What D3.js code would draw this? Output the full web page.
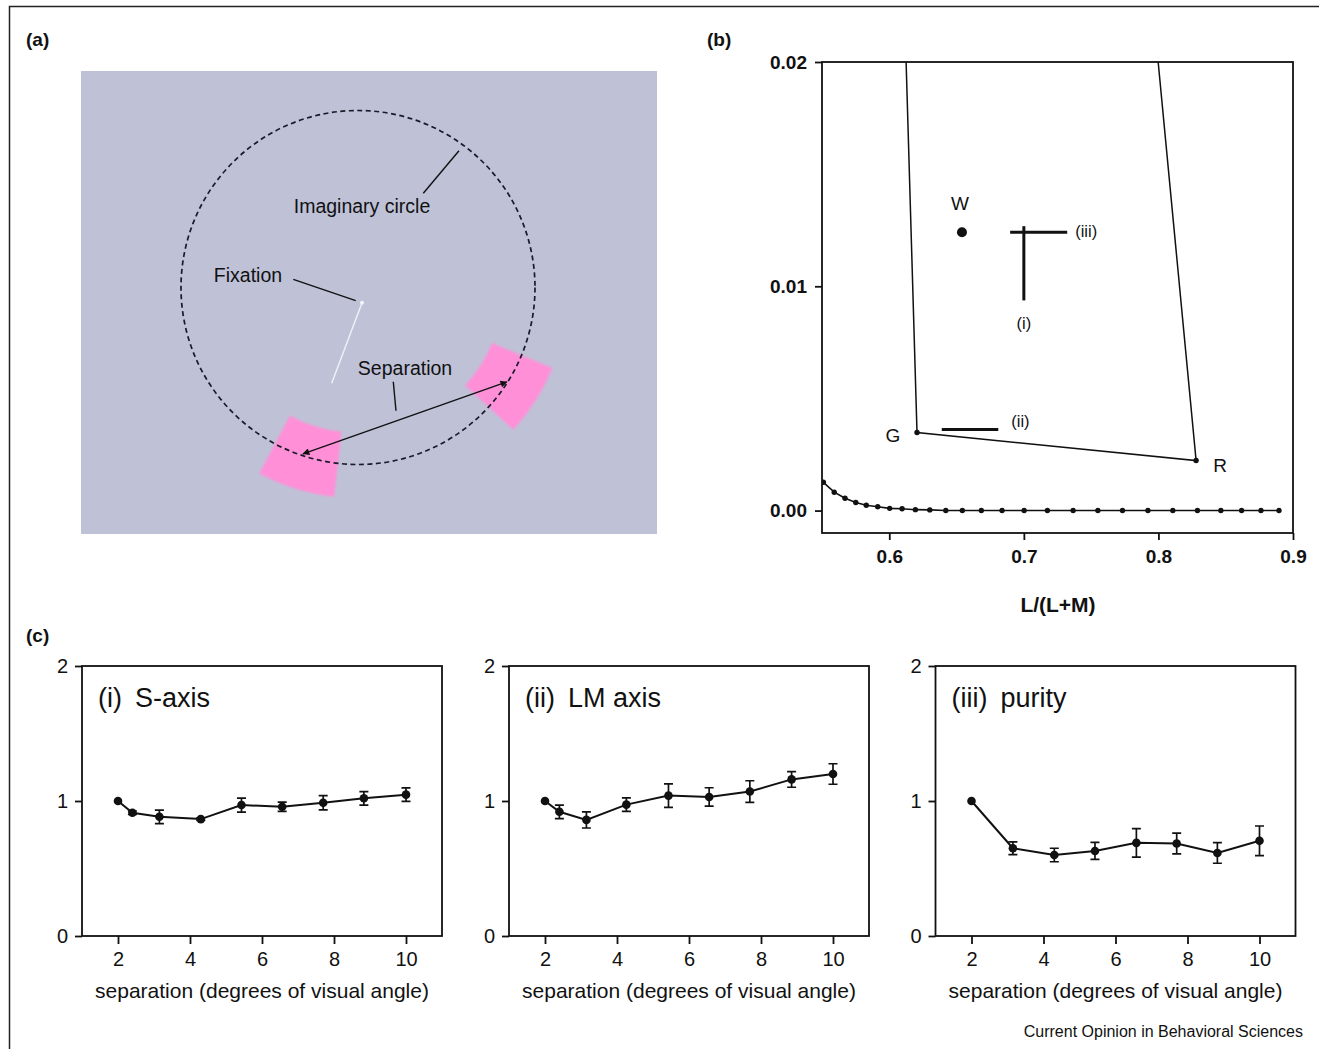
<!DOCTYPE html>
<html><head><meta charset="utf-8">
<script src="https://cdn.jsdelivr.net/npm/d3@7"></script>
<style>
body{margin:0;background:#fff}
svg{display:block}
text{font-family:"Liberation Sans",Arial,Helvetica,sans-serif;fill:#111}
</style>
</head><body>
<svg id="fig" width="1319" height="1049"></svg>
<script>
// ---------- DATA ----------
// Panel (b): spectrum locus in MacLeod-Boynton space
const locusLM = [0.551,0.5591,0.5671,0.5751,0.5829,0.5914,0.6003,0.6095,0.6194,0.6301,0.6420,0.6543,0.6684,0.6838,0.7002,0.7175,0.7366,0.7550,0.7733,0.7922,0.8107,0.8290,0.8464,0.8618,0.8762,0.8896];
const locusS  = [0.00126,0.00082,0.00055,0.00036,0.00024,0.00017,0.00010,0.00008,0.00004,0.00003,0,0,0,0,0,0,0,0,0,0,0,0,0,0,0,0];
// monitor gamut: top-left, G, R, top-right
const gamutLM = [0.6125,0.6206,0.8280,0.7998];
const gamutS  = [0.0200,0.00348,0.00223,0.0200];
const gamutLabels = ["", "G", "R", ""];
const whiteLM = 0.654, whiteS = 0.01241;
// stimulus directions: [lm0, s0, lm1, s1]
const dirLabels = ["(i)", "(ii)", "(iii)"];
const dirLines = [[0.700,0.00937,0.700,0.01268],[0.639,0.00362,0.681,0.00362],[0.6898,0.01241,0.7322,0.01241]];
const bXTicks = [0.6,0.7,0.8,0.9];
const bYTicks = [0.00,0.01,0.02];

// Panel (c)
const sepS  = [2,2.4,3.15,4.3,5.43,6.56,7.7,8.83,10];
const valS  = [1.0,0.913,0.883,0.866,0.97,0.957,0.987,1.02,1.047];
const errS  = [0,0.013,0.05,0.01,0.052,0.034,0.053,0.05,0.05];
const sepLM = [2,2.4,3.15,4.26,5.43,6.56,7.69,8.85,10];
const valLM = [1.0,0.92,0.86,0.973,1.04,1.03,1.07,1.16,1.2];
const errLM = [0,0.05,0.06,0.05,0.087,0.068,0.08,0.058,0.076];
const sepP  = [2,3.15,4.3,5.43,6.58,7.7,8.83,10];
const valP  = [1.0,0.65,0.6,0.63,0.69,0.685,0.615,0.705];
const errP  = [0,0.047,0.05,0.063,0.105,0.077,0.076,0.11];
const cTitles = [["(i)","S-axis"],["(ii)","LM axis"],["(iii)","purity"]];
const cXTicks = [2,4,6,8,10];
const cYTicks = [0,1,2];

// Panel (a): schematic geometry (degrees of visual angle, fixation = origin)
const circleRadius = 5;
const patchAngles = [[186.5,208],[112.5,132.5]];   // clockwise from 12 o'clock
const patchRadii = [4.1,5.95];
const arrowAngles = [198.3,122.4];

// ---------- DRAW ----------
const svg = d3.select("#fig");
const font = '"Liberation Sans",Arial,Helvetica,sans-serif';

// outer frame
svg.append("rect").attr("x",9.5).attr("y",6.5).attr("width",1320).attr("height",1060)
  .attr("fill","none").attr("stroke","#222").attr("stroke-width",1.5);

// panel letters
[["(a)",26,46],["(b)",707,46],["(c)",26,642]].forEach(([t,x,y])=>{
  svg.append("text").attr("x",x).attr("y",y).attr("font-size",19).attr("font-weight","bold").text(t);
});

// ===== Panel (a) =====
(function(){
  const cx = 358, cy = 287.5, k = 35.4;
  const ax = d3.scaleLinear().domain([-5,5]).range([cx-5*k, cx+5*k]);
  const ay = d3.scaleLinear().domain([-5,5]).range([cy+5*k, cy-5*k]);
  const rpx = r => ax(r)-ax(0);
  const g = svg.append("g");
  g.append("rect").attr("x",ax(-7.825)).attr("y",ay(6.116))
    .attr("width",ax(8.446)-ax(-7.825)).attr("height",ay(-6.963)-ay(6.116)).attr("fill","#bfc1d7");
  const defs = svg.append("defs");
  defs.append("filter").attr("id","soft").append("feGaussianBlur").attr("stdDeviation",0.9);
  const m = defs.append("marker").attr("id","ah").attr("viewBox","0 0 10 10").attr("refX",9).attr("refY",5)
    .attr("markerWidth",10).attr("markerHeight",7).attr("markerUnits","userSpaceOnUse").attr("orient","auto-start-reverse");
  m.append("path").attr("d","M0,0 L10,5 L0,10 z").attr("fill","#111");

  const arc = d3.arc();
  patchAngles.forEach(a=>{
    g.append("path").attr("transform",`translate(${ax(0)},${ay(0)})`)
      .attr("d",arc({innerRadius:rpx(patchRadii[0]),outerRadius:rpx(patchRadii[1]),startAngle:a[0]*Math.PI/180,endAngle:a[1]*Math.PI/180}))
      .attr("fill","#ff90d8").attr("filter","url(#soft)");
  });
  g.append("circle").attr("cx",ax(0)).attr("cy",ay(0)).attr("r",rpx(circleRadius))
    .attr("fill","none").attr("stroke","#1a1a2a").attr("stroke-width",1.7).attr("stroke-dasharray","5,3.5");
  // fixation pointer (white) and dot
  g.append("line").attr("x1",ax(0.113)).attr("y1",ay(-0.429)).attr("x2",ax(-0.743)).attr("y2",ay(-2.706))
    .attr("stroke","#eef0f8").attr("stroke-width",1.5);
  g.append("circle").attr("cx",ax(0.113)).attr("cy",ay(-0.429)).attr("r",2).attr("fill","#f4f4fa");
  // separation arrow
  const pt = (ang,r)=>[ax(0)+rpx(r)*Math.sin(ang*Math.PI/180), ay(0)-rpx(r)*Math.cos(ang*Math.PI/180)];
  const p0 = pt(arrowAngles[0],4.95), p1 = pt(arrowAngles[1],4.98);
  g.append("line").attr("x1",p0[0]).attr("y1",p0[1]).attr("x2",p1[0]).attr("y2",p1[1])
    .attr("stroke","#111").attr("stroke-width",1.4).attr("marker-start","url(#ah)").attr("marker-end","url(#ah)");
  // leaders
  [[-1.828,0.232,-0.065,-0.373],[1.845,2.661,2.853,3.864],[0.997,-2.661,1.073,-3.48]].forEach(l=>{
    g.append("line").attr("x1",ax(l[0])).attr("y1",ay(l[1])).attr("x2",ax(l[2])).attr("y2",ay(l[3]))
      .attr("stroke","#111").attr("stroke-width",1.4);
  });
  [["Fixation",-3.107,0.155],["Imaginary circle",0.113,2.105],["Separation",1.328,-2.472]].forEach(([t,x,y])=>{
    g.append("text").attr("x",ax(x)).attr("y",ay(y)).attr("text-anchor","middle").attr("font-size",19.5).text(t);
  });
})();

// ===== Panel (b) =====
(function(){
  const x = d3.scaleLinear().domain([0.55,0.9]).range([822,1293]);
  const y = d3.scaleLinear().domain([-0.001,0.02]).range([533,62]);
  const g = svg.append("g");
  const defs = svg.append("defs");
  defs.append("clipPath").attr("id","bclip").append("rect").attr("x",822).attr("y",62).attr("width",471).attr("height",471);
  // frame
  g.append("rect").attr("x",822).attr("y",62).attr("width",471).attr("height",471)
    .attr("fill","none").attr("stroke","#111").attr("stroke-width",1.8);
  const ax = g.append("g").attr("transform","translate(822,0)")
    .call(d3.axisLeft(y).tickValues(bYTicks).tickFormat(d3.format(".2f")).tickSize(7).tickPadding(8));
  const bx = g.append("g").attr("transform","translate(0,533)")
    .call(d3.axisBottom(x).tickValues(bXTicks).tickFormat(d3.format(".1f")).tickSize(7).tickPadding(10));
  [ax,bx].forEach(a=>{
    a.select(".domain").remove();
    a.selectAll("line").attr("stroke","#111").attr("stroke-width",1.8);
    a.selectAll("text").attr("font-size",19).attr("font-weight","bold").attr("font-family",font).attr("fill","#111");
  });
  g.append("text").attr("x",1058).attr("y",612).attr("text-anchor","middle").attr("font-size",21).attr("font-weight","bold").text("L/(L+M)");

  const inner = g.append("g").attr("clip-path","url(#bclip)");
  const pts = locusLM.map((d,i)=>[d,locusS[i]]);
  inner.append("path").attr("d",d3.line().x(d=>x(d[0])).y(d=>y(d[1]))(pts))
    .attr("fill","none").attr("stroke","#111").attr("stroke-width",1.6);
  inner.selectAll("circle.loc").data(pts).join("circle").attr("class","loc")
    .attr("cx",d=>x(d[0])).attr("cy",d=>y(d[1])).attr("r",2.7).attr("fill","#111");
  const gam = gamutLM.map((d,i)=>[d,gamutS[i]]);
  inner.append("path").attr("d",d3.line().x(d=>x(d[0])).y(d=>y(d[1]))(gam))
    .attr("fill","none").attr("stroke","#111").attr("stroke-width",1.5);
  [1,2].forEach(i=>{
    g.append("circle").attr("cx",x(gam[i][0])).attr("cy",y(gam[i][1])).attr("r",2.7).attr("fill","#111");
  });
  g.append("text").attr("x",x(gam[1][0])-24).attr("y",y(gam[1][1])+9).attr("text-anchor","middle").attr("font-size",19).text(gamutLabels[1]);
  g.append("text").attr("x",x(gam[2][0])+24).attr("y",y(gam[2][1])+11).attr("text-anchor","middle").attr("font-size",19).text(gamutLabels[2]);
  // white point
  g.append("circle").attr("cx",x(whiteLM)).attr("cy",y(whiteS)).attr("r",5).attr("fill","#111");
  g.append("text").attr("x",x(whiteLM)-2).attr("y",y(whiteS)-22).attr("text-anchor","middle").attr("font-size",19).text("W");
  // directions
  dirLines.forEach(l=>{
    g.append("line").attr("x1",x(l[0])).attr("y1",y(l[1])).attr("x2",x(l[2])).attr("y2",y(l[3]))
      .attr("stroke","#111").attr("stroke-width",3);
  });
  g.append("text").attr("x",x(dirLines[0][0])).attr("y",y(dirLines[0][1])+29).attr("text-anchor","middle").attr("font-size",16.5).text(dirLabels[0]);
  g.append("text").attr("x",x(dirLines[1][2])+13).attr("y",y(dirLines[1][3])-2).attr("font-size",16.5).text(dirLabels[1]);
  g.append("text").attr("x",x(dirLines[2][2])+8).attr("y",y(dirLines[2][3])+5).attr("font-size",16.5).text(dirLabels[2]);
})();

// ===== Panel (c) =====
(function(){
  const lefts = [82,509,935.5];
  const series = [[sepS,valS,errS],[sepLM,valLM,errLM],[sepP,valP,errP]];
  const y = d3.scaleLinear().domain([0,2]).range([936,666]);
  lefts.forEach((L,i)=>{
    const x = d3.scaleLinear().domain([1,11]).range([L,L+360]);
    const g = svg.append("g");
    g.append("rect").attr("x",L).attr("y",666).attr("width",360).attr("height",270)
      .attr("fill","none").attr("stroke","#111").attr("stroke-width",1.8);
    const ya = g.append("g").attr("transform",`translate(${L},0)`)
      .call(d3.axisLeft(y).tickValues(cYTicks).tickFormat(d3.format("d")).tickSize(7).tickPadding(7));
    const xa = g.append("g").attr("transform","translate(0,936)")
      .call(d3.axisBottom(x).tickValues(cXTicks).tickFormat(d3.format("d")).tickSize(8).tickPadding(8));
    [ya,xa].forEach(a=>{
      a.select(".domain").remove();
      a.selectAll("line").attr("stroke","#111").attr("stroke-width",1.8);
      a.selectAll("text").attr("font-size",20).attr("font-family",font).attr("fill","#111");
    });
    g.append("text").attr("x",L+180).attr("y",998).attr("text-anchor","middle").attr("font-size",21)
      .text("separation (degrees of visual angle)");
    const t = g.append("text").attr("x",L+16).attr("y",707).attr("font-size",27);
    t.append("tspan").text(cTitles[i][0]);
    t.append("tspan").attr("dx",13).text(cTitles[i][1]);

    const [xs,vs,es] = series[i];
    const pts = xs.map((d,j)=>({x:d,v:vs[j],e:es[j]}));
    g.append("path").attr("d",d3.line().x(d=>x(d.x)).y(d=>y(d.v))(pts))
      .attr("fill","none").attr("stroke","#111").attr("stroke-width",2);
    pts.filter(d=>d.e>0).forEach(d=>{
      const px=x(d.x), y0=y(d.v-d.e), y1=y(d.v+d.e);
      g.append("path").attr("d",`M${px},${y0}V${y1}M${px-4.5},${y0}H${px+4.5}M${px-4.5},${y1}H${px+4.5}`)
        .attr("stroke","#111").attr("stroke-width",1.7).attr("fill","none");
    });
    g.selectAll("circle.pt").data(pts).join("circle").attr("class","pt")
      .attr("cx",d=>x(d.x)).attr("cy",d=>y(d.v)).attr("r",4.3).attr("fill","#111");
  });
})();

svg.append("text").attr("x",1303).attr("y",1037).attr("text-anchor","end").attr("font-size",16).text("Current Opinion in Behavioral Sciences");
</script>
</body></html>
